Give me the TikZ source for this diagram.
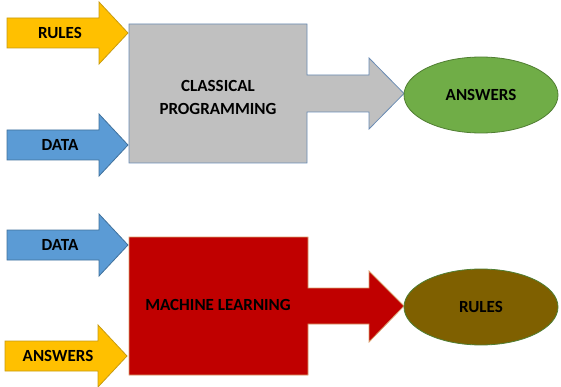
\documentclass[tikz,border=0pt]{standalone}
\usepackage{fontspec}
\setmainfont{Carlito}
\usepackage{tikz}
\usetikzlibrary{shapes.geometric}
\definecolor{rulesgold}{HTML}{FFC000}
\definecolor{rulesedge}{HTML}{C89B10}
\definecolor{datablue}{HTML}{5B9BD5}
\definecolor{dataedge}{HTML}{41719C}
\definecolor{classicgray}{HTML}{C0C0C0}
\definecolor{classicedge}{HTML}{6A8CB4}
\definecolor{mlred}{HTML}{C00000}
\definecolor{mledge}{HTML}{D9A06E}
\definecolor{answergreen}{HTML}{70AD47}
\definecolor{answeredge}{HTML}{507E32}
\definecolor{rulesolive}{HTML}{7F6000}
\tikzset{
  blockarrow/.style={line width=0.8pt,line join=miter},
  inarrow/.style={blockarrow},
  label/.style={font=\fontsize{17}{20}\selectfont\bfseries,text=black,inner sep=0pt},
  result/.style={ellipse,line width=0.8pt,minimum width=154pt,minimum height=76pt,
                 inner sep=0pt,font=\fontsize{17}{20}\selectfont\bfseries}
}
\begin{document}
\begin{tikzpicture}[x=1pt,y=-1pt]
  \useasboundingbox (0,0) rectangle (561,387);
  % input arrows: fill/edge/centre y/left x/tip x
  \foreach \fc/\ec/\cy/\lx/\tx in {rulesgold/rulesedge/33/7/128,datablue/dataedge/145/7/128,
                                    datablue/dataedge/245/7/128,rulesgold/rulesedge/356/5/127}{
    \draw[inarrow,fill=\fc,draw=\ec] (\lx,\cy-15) -- (\tx-29,\cy-15) -- (\tx-29,\cy-31)
      -- (\tx,\cy) -- (\tx-29,\cy+31) -- (\tx-29,\cy+15) -- (\lx,\cy+15) -- cycle;
  }
  \node[label] (rules1) at (60,33) {RULES};
  \node[label] (data1) at (60,145) {DATA};
  \node[label] (data2) at (60,245) {DATA};
  \node[label] (answers2) at (58,356) {ANSWERS};
  % processing blocks with outgoing arrow
  \draw[blockarrow,fill=classicgray,draw=classicedge] (129,24) -- (307,24) -- (307,75)
    -- (369,75) -- (369,58) -- (404,93.5) -- (369,129) -- (369,112) -- (307,112)
    -- (307,163) -- (129,163) -- cycle;
  \draw[blockarrow,fill=mlred,draw=mledge] (129,237) -- (308,237) -- (308,288)
    -- (369,288) -- (369,271) -- (404,306) -- (369,342) -- (369,324) -- (308,324)
    -- (308,375) -- (129,375) -- cycle;
  \node[label,align=center,font=\fontsize{17}{23}\selectfont\bfseries] (classic) at (218,97)
    {CLASSICAL\\PROGRAMMING};
  \node[label] (ml) at (218,305) {MACHINE LEARNING};
  % outputs
  \node[result,fill=answergreen,draw=answeredge] (answers1) at (481,95) {ANSWERS};
  \node[result,fill=rulesolive,draw=answeredge] (rules2) at (481,307) {RULES};
\end{tikzpicture}
\end{document}
